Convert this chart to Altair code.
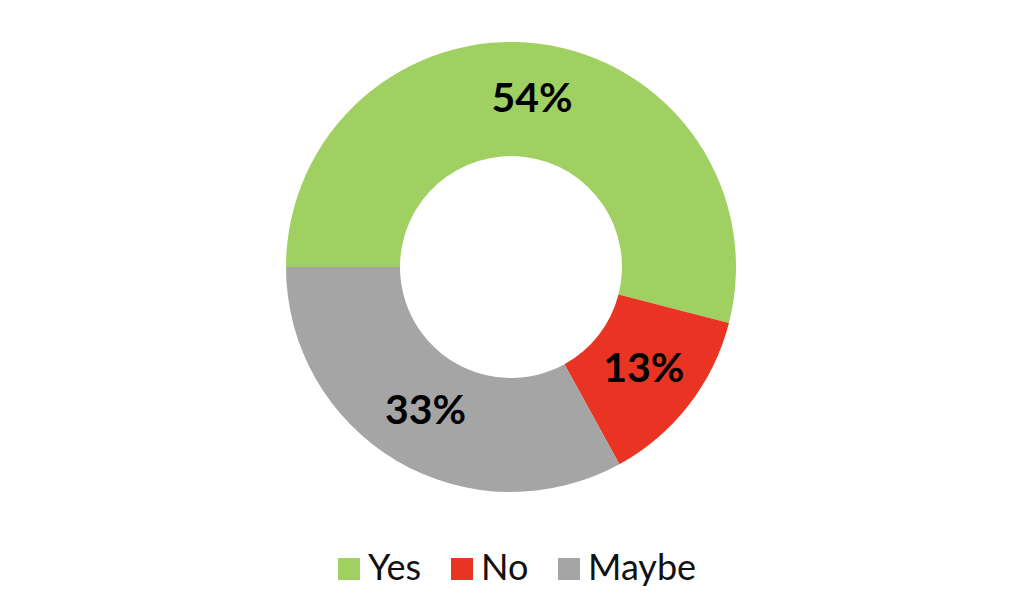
import math
import altair as alt
import pandas as pd

categories = ["Yes", "No", "Maybe"]
values = [54, 13, 33]
labels = ["54%", "13%", "33%"]
colors = ["#A0D062", "#E93323", "#A5A5A5"]

df = pd.DataFrame({
    "cat": categories,
    "value": values,
    "label": labels,
    "idx": list(range(len(categories))),
})

theta_scale = alt.Scale(range=[1.5 * math.pi, 3.5 * math.pi])

base = alt.Chart(df).encode(
    theta=alt.Theta("value:Q", stack=True, scale=theta_scale),
    order=alt.Order("idx:Q"),
)

arcs = base.mark_arc(innerRadius=111, outerRadius=225).encode(
    color=alt.Color(
        "cat:N",
        scale=alt.Scale(domain=categories, range=colors),
        sort=categories,
        legend=alt.Legend(
            title=None,
            orient="none",
            direction="horizontal",
            legendX=323,
            legendY=543,
            symbolType="square",
            symbolSize=484,
            symbolStrokeWidth=0,
            labelFontSize=36,
            labelFont="Lato",
            labelColor="#111111",
            labelOffset=1,
            columnPadding=22,
            symbolOffset=0,
        ),
    )
)

text = base.mark_text(
    radius=168, font="Lato", fontWeight="bold", fontSize=41, color="#000000"
).encode(text="label:N")

chart = (
    (arcs + text)
    .properties(width=1006, height=518, padding=0)
    .configure_view(stroke=None)
)

chart.save("out.html", embed_options={"renderer": "svg", "actions": False})
